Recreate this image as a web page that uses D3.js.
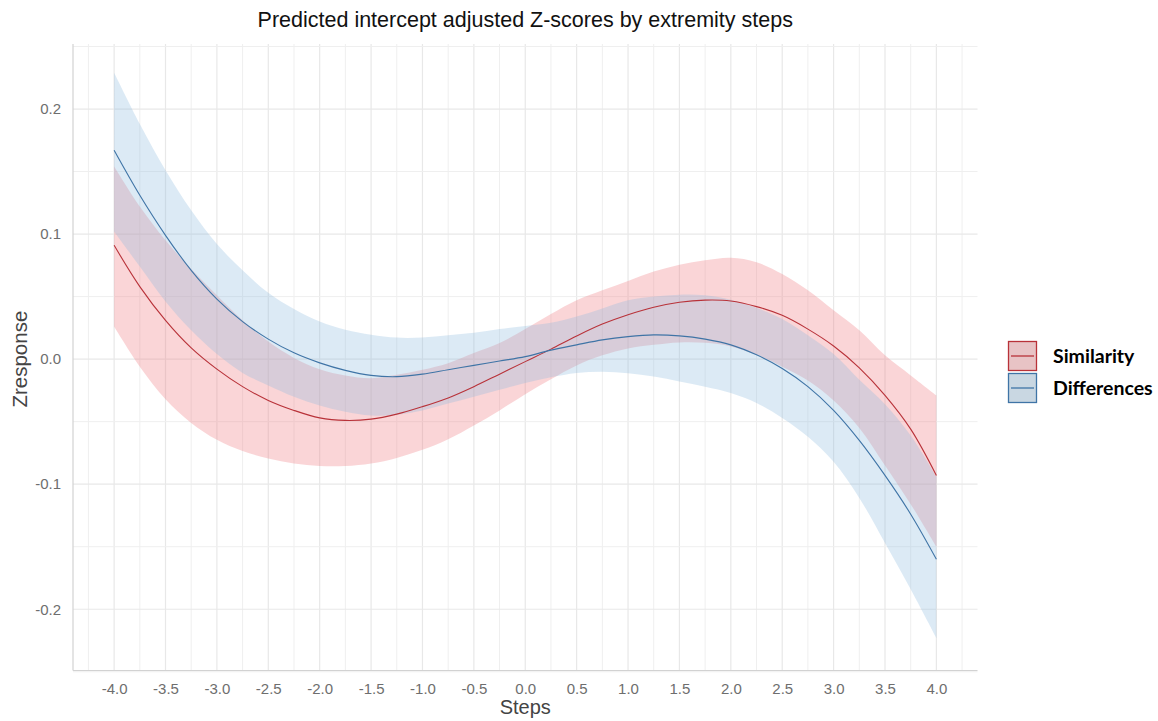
<!DOCTYPE html>
<html>
<head>
<meta charset="utf-8">
<script src="https://cdn.jsdelivr.net/npm/d3@7"></script>
<style>
  html, body { margin: 0; padding: 0; background: #ffffff; }
  svg { display: block; }
</style>
</head>
<body>
<svg id="chart" width="1158" height="721"></svg>
<script>
// Extremity steps at which the model predictions were evaluated
const steps = [-4, -3.75, -3.5, -3.25, -3, -2.75, -2.5, -2.25, -2, -1.75, -1.5, -1.25, -1, -0.75, -0.5, -0.25,
               0, 0.25, 0.5, 0.75, 1, 1.25, 1.5, 1.75, 2, 2.25, 2.5, 2.75, 3, 3.25, 3.5, 3.75, 4];

// Similarity: predicted value and confidence band
const simFit  = [0.091, 0.058, 0.031, 0.009, -0.008, -0.022, -0.033, -0.041, -0.047, -0.049, -0.048, -0.044, -0.038, -0.031, -0.022, -0.012,
                 -0.002, 0.008, 0.0185, 0.028, 0.0355, 0.0415, 0.0455, 0.0472, 0.0465, 0.042, 0.035, 0.024, 0.0105, -0.007, -0.029, -0.056, -0.093];
const simLow  = [0.026, -0.006, -0.032, -0.051, -0.0645, -0.0735, -0.0795, -0.0835, -0.0855, -0.0855, -0.0835, -0.079, -0.0725, -0.064, -0.053, -0.041,
                 -0.028, -0.016, -0.005, 0.003, 0.0085, 0.0114, 0.0133, 0.013, 0.0101, 0.0034, -0.006, -0.017, -0.033, -0.055, -0.085, -0.116, -0.150];
const simHigh = [0.154, 0.122, 0.095, 0.072, 0.051, 0.031, 0.014, 0.001, -0.008, -0.013, -0.0152, -0.0125, -0.0085, -0.0032, 0.0048, 0.0128,
                 0.024, 0.036, 0.047, 0.055, 0.0625, 0.070, 0.0755, 0.079, 0.081, 0.0775, 0.068, 0.055, 0.039, 0.023, 0.003, -0.013, -0.029];

// Differences: predicted value and confidence band
const diffFit  = [0.167, 0.131, 0.099, 0.071, 0.048, 0.030, 0.016, 0.005, -0.003, -0.009, -0.013, -0.014, -0.012, -0.0085, -0.005, -0.0015,
                  0.002, 0.0072, 0.0114, 0.0154, 0.018, 0.0194, 0.0186, 0.016, 0.0114, 0.0034, -0.0075, -0.022, -0.041, -0.065, -0.093, -0.124, -0.160];
const diffLow  = [0.102, 0.074, 0.046, 0.023, 0.004, -0.011, -0.021, -0.030, -0.037, -0.042, -0.045, -0.0445, -0.041, -0.0355, -0.030, -0.0245,
                  -0.019, -0.0145, -0.011, -0.010, -0.0112, -0.0139, -0.0178, -0.022, -0.027, -0.035, -0.047, -0.062, -0.082, -0.111, -0.147, -0.184, -0.223];
const diffHigh = [0.229, 0.188, 0.151, 0.119, 0.092, 0.071, 0.053, 0.040, 0.030, 0.0235, 0.0195, 0.0172, 0.0173, 0.019, 0.021, 0.024,
                  0.0265, 0.029, 0.034, 0.0405, 0.047, 0.050, 0.0515, 0.051, 0.0475, 0.041, 0.032, 0.019, 0.004, -0.0165, -0.036, -0.061, -0.094];

// Axis ticks and labels
const xTicks = [-4, -3.5, -3, -2.5, -2, -1.5, -1, -0.5, 0, 0.5, 1, 1.5, 2, 2.5, 3, 3.5, 4];
const xMinor = [-4.25, -3.75, -3.25, -2.75, -2.25, -1.75, -1.25, -0.75, -0.25, 0.25, 0.75, 1.25, 1.75, 2.25, 2.75, 3.25, 3.75, 4.25];
const yTicks = [-0.2, -0.1, 0, 0.1, 0.2];
const yMinor = [-0.25, -0.15, -0.05, 0.05, 0.15, 0.25];

const seriesNames = ["Similarity", "Differences"];
const lineColors  = ["#b83239", "#3f74a6"];
const bandColors  = ["rgba(240,128,133,0.33)", "rgba(138,184,222,0.30)"];

const svg = d3.select("#chart");
const panel = { left: 73, right: 977.5, top: 44, bottom: 670.5 };
const sans = "'Liberation Sans', Arial, sans-serif";

const x = d3.scaleLinear().domain([-4.4, 4.4]).range([panel.left, panel.right]);
const y = d3.scaleLinear().domain([-0.249, 0.252]).range([panel.bottom, panel.top]);

// Tick format with a plain hyphen for negatives
const fmt = d => d3.format(".1f")(d).replace("\u2212", "-");

// Grid
const grid = svg.append("g").attr("class", "grid");
grid.selectAll("line.vminor").data(xMinor).join("line")
  .attr("x1", d => x(d)).attr("x2", d => x(d))
  .attr("y1", panel.top).attr("y2", panel.bottom)
  .attr("stroke", "#efefef").attr("stroke-width", 1);
grid.selectAll("line.vmajor").data(xTicks).join("line")
  .attr("x1", d => x(d)).attr("x2", d => x(d))
  .attr("y1", panel.top).attr("y2", panel.bottom)
  .attr("stroke", "#e8e8e8").attr("stroke-width", 1.2);
grid.selectAll("line.hminor").data(yMinor).join("line")
  .attr("x1", panel.left).attr("x2", panel.right)
  .attr("y1", d => y(d)).attr("y2", d => y(d))
  .attr("stroke", "#efefef").attr("stroke-width", 1);
grid.selectAll("line.hmajor").data(yTicks).join("line")
  .attr("x1", panel.left).attr("x2", panel.right)
  .attr("y1", d => y(d)).attr("y2", d => y(d))
  .attr("stroke", "#e8e8e8").attr("stroke-width", 1.2);

// Axis lines (left and bottom)
svg.append("line")
  .attr("x1", panel.left).attr("x2", panel.left)
  .attr("y1", panel.top).attr("y2", panel.bottom)
  .attr("stroke", "#d2d2d2").attr("stroke-width", 1.2);
svg.append("line")
  .attr("x1", panel.left).attr("x2", panel.right)
  .attr("y1", panel.bottom).attr("y2", panel.bottom)
  .attr("stroke", "#d2d2d2").attr("stroke-width", 1.2);

// Build point tables from the arrays
const series = [
  steps.map((s, i) => ({ step: s, fit: simFit[i], low: simLow[i], high: simHigh[i] })),
  steps.map((s, i) => ({ step: s, fit: diffFit[i], low: diffLow[i], high: diffHigh[i] }))
];

const curve = d3.curveCatmullRom.alpha(0.5);
const area = d3.area().x(d => x(d.step)).y0(d => y(d.low)).y1(d => y(d.high)).curve(curve);
const line = d3.line().x(d => x(d.step)).y(d => y(d.fit)).curve(curve);

const marks = svg.append("g").attr("class", "marks");
series.forEach((data, k) => {
  marks.append("path").datum(data).attr("d", area).attr("fill", bandColors[k]).attr("stroke", "none");
});
series.forEach((data, k) => {
  marks.append("path").datum(data).attr("d", line)
    .attr("fill", "none").attr("stroke", lineColors[k]).attr("stroke-width", 1.1);
});

// Axes (labels only, no tick marks)
const xAxis = d3.axisBottom(x).tickValues(xTicks).tickFormat(fmt).tickSize(0).tickPadding(0);
const gx = svg.append("g").attr("transform", `translate(0, ${panel.bottom + 13})`).call(xAxis);
gx.select(".domain").remove();
gx.selectAll("text").attr("font-family", sans)
  .attr("font-size", 15).attr("fill", "#6e6e6e").attr("dy", "0.71em");

const yAxis = d3.axisLeft(y).tickValues(yTicks).tickFormat(fmt).tickSize(0).tickPadding(0);
const gy = svg.append("g").attr("transform", `translate(${panel.left - 12}, 0)`).call(yAxis);
gy.select(".domain").remove();
gy.selectAll("text").attr("font-family", sans)
  .attr("font-size", 15).attr("fill", "#6e6e6e");

// Titles
svg.append("text")
  .attr("x", (panel.left + panel.right) / 2).attr("y", 27)
  .attr("text-anchor", "middle")
  .attr("font-family", sans)
  .attr("font-size", 21.5).attr("fill", "#111")
  .text("Predicted intercept adjusted Z-scores by extremity steps");

svg.append("text")
  .attr("x", (panel.left + panel.right) / 2).attr("y", 714)
  .attr("text-anchor", "middle")
  .attr("font-family", sans)
  .attr("font-size", 20).attr("fill", "#444")
  .text("Steps");

svg.append("text")
  .attr("transform", `translate(27, ${y(0)}) rotate(-90)`)
  .attr("text-anchor", "middle")
  .attr("font-family", sans)
  .attr("font-size", 20.5).attr("fill", "#444")
  .text("Zresponse");

// Legend
const legend = svg.append("g").attr("transform", "translate(1008, 341)");
const keyW = 28, keyH = 29, keyGap = 3;
seriesNames.forEach((name, k) => {
  const g = legend.append("g").attr("transform", `translate(0, ${k * (keyH + keyGap)})`);
  g.append("rect").attr("x", 0.5).attr("y", 0.5).attr("width", keyW).attr("height", keyH)
    .attr("fill", "#e4e4e4").attr("stroke", "none");
  g.append("rect").attr("x", 0.5).attr("y", 0.5).attr("width", keyW).attr("height", keyH)
    .attr("fill", bandColors[k]).attr("stroke", lineColors[k]).attr("stroke-width", 1.3);
  g.append("line").attr("x1", 3).attr("x2", keyW - 2)
    .attr("y1", keyH / 2 + 0.5).attr("y2", keyH / 2 + 0.5)
    .attr("stroke", lineColors[k]).attr("stroke-width", 1.3);
  g.append("text").attr("x", 45).attr("y", keyH / 2 + 1).attr("dy", "0.35em")
    .attr("font-family", "Lato, 'Open Sans', sans-serif").attr("font-weight", "bold")
    .attr("font-size", 19.5).attr("fill", "#000")
    .text(name);
});
</script>
</body>
</html>
